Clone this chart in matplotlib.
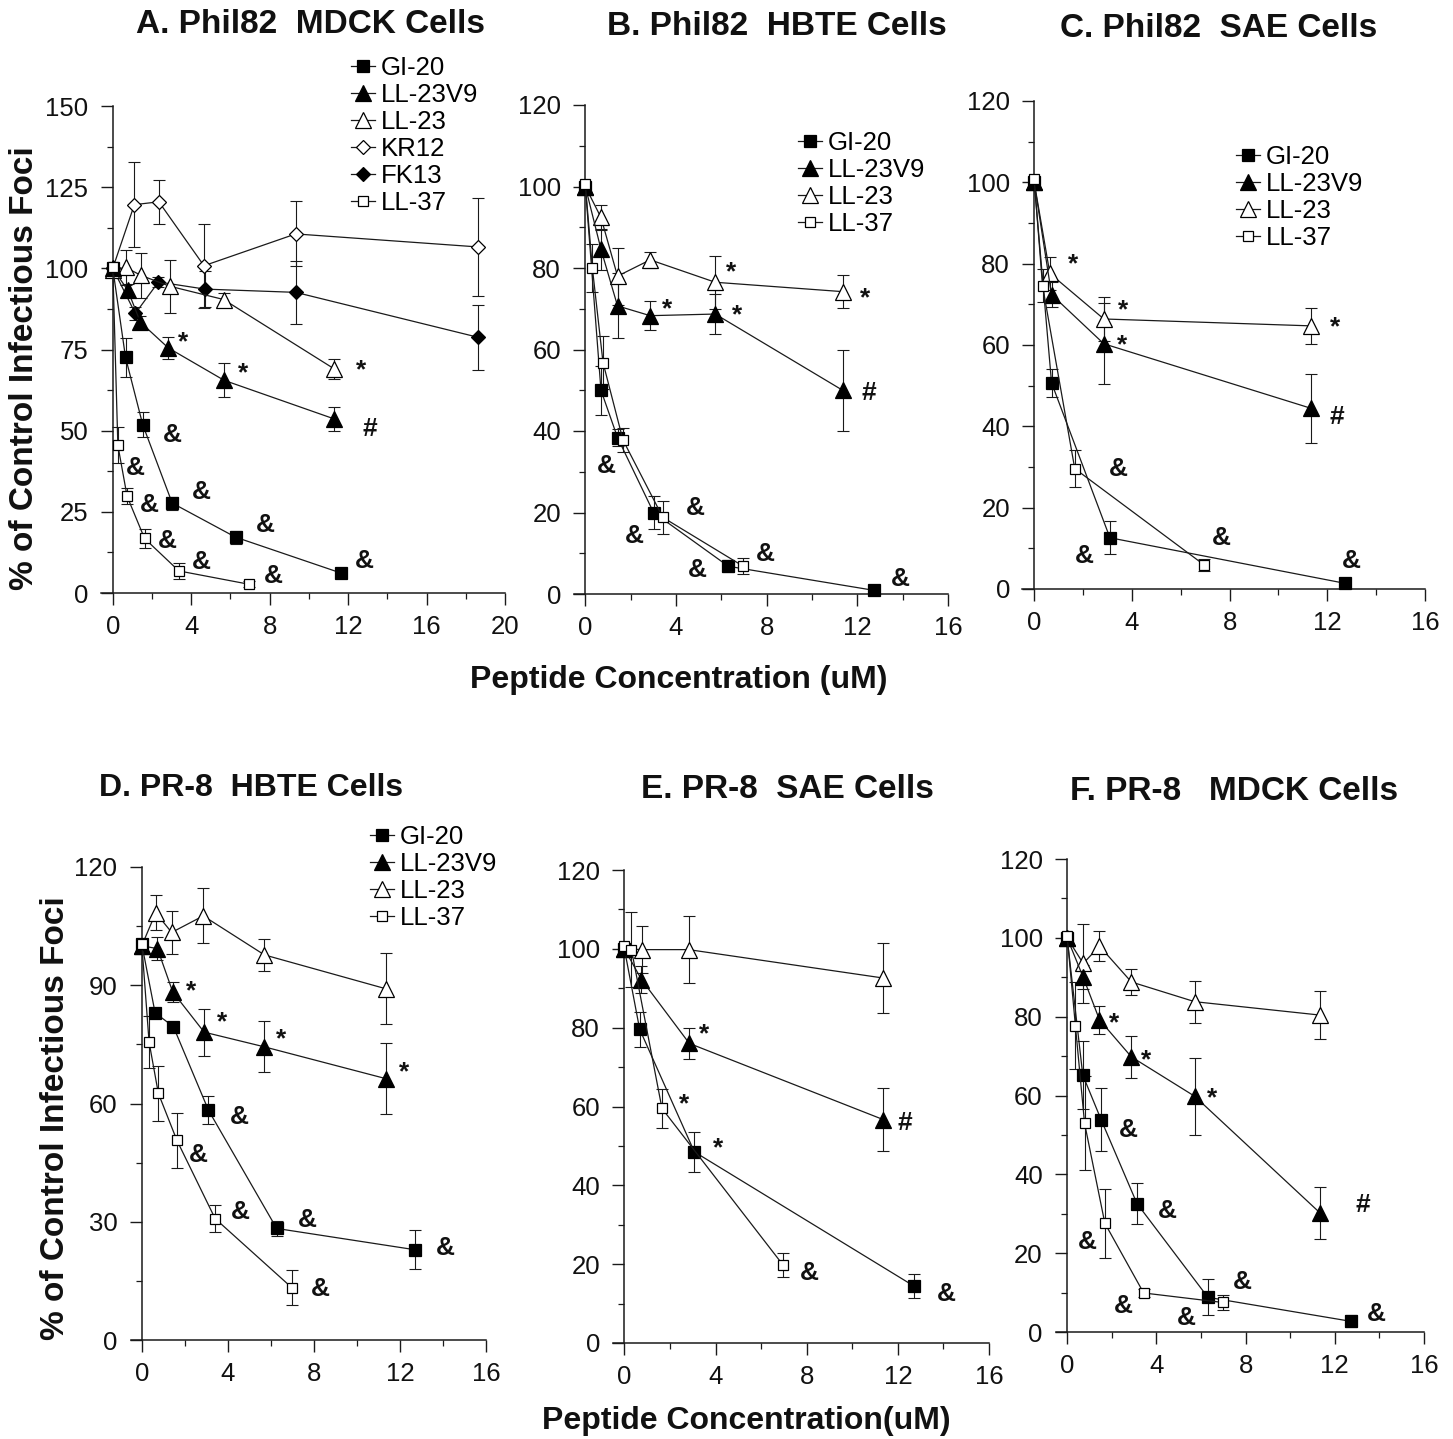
import matplotlib
matplotlib.use("Agg")
import matplotlib.pyplot as plt
from matplotlib.ticker import MultipleLocator

plt.rcParams['font.family'] = ['Liberation Sans', 'DejaVu Sans']

W, H = 1453, 1439

# ---- data: (x, y, err) per peptide ----
# A. Phil82 MDCK
A_GI20 = ([0, 0.65, 1.53, 3.03, 6.26, 11.66], [100, 72.6, 51.8, 27.7, 17.2, 6.1], [0, 6, 3.9, 2, 2, 1])
A_LL23V9 = ([0, 0.77, 1.41, 2.83, 5.68, 11.3], [100, 93.2, 83.4, 75.5, 65.5, 53.6], [0, 2, 2, 3.5, 5.2, 3.6])
A_LL23 = ([0, 0.65, 1.45, 2.9, 5.65, 11.3], [99.5, 100.3, 97.8, 94.5, 90.4, 69], [1, 5.5, 7, 8.2, 2, 3])
A_KR12 = ([0, 1.1, 2.35, 4.65, 9.33, 18.6], [100, 119.6, 120.5, 100.8, 110.6, 106.6], [0, 13, 6.8, 13, 10, 15])
A_FK13 = ([0, 1.15, 2.33, 4.7, 9.33, 18.6], [100, 86.1, 95.8, 93.6, 92.6, 78.8], [0, 2, 1.5, 5.5, 9.8, 10])
A_LL37 = ([0, 0.26, 0.73, 1.62, 3.37, 6.94], [100.5, 45.5, 29.8, 16.8, 6.8, 2.7], [0, 5.5, 2.5, 3, 2.5, 1])

# B. Phil82 HBTE
B_GI20 = ([0, 0.69, 1.42, 3.01, 6.31, 12.73], [100, 50, 38.4, 20, 6.8, 0.9], [0, 6, 2, 4, 1.5, 0.5])
B_LL23V9 = ([0, 0.69, 1.42, 2.86, 5.73, 11.35], [100, 84.6, 70.7, 68.3, 68.7, 50], [0, 5, 8, 3.5, 5, 10])
B_LL23 = ([0, 0.69, 1.42, 2.86, 5.73, 11.35], [100, 92.4, 78, 82, 76.5, 74.2], [0, 3, 7, 2, 6.5, 4])
B_LL37 = ([0, 0.31, 0.78, 1.66, 3.42, 6.97], [100.5, 80, 56.8, 37.8, 18.8, 6.8], [0, 6, 6.5, 3, 4, 2])

# C. Phil82 SAE
C_GI20 = ([0, 0.71, 3.1, 12.72], [100, 50.7, 12.6, 1.4], [0, 3.5, 4, 1])
C_LL23V9 = ([0, 0.71, 2.85, 11.35], [100, 72.4, 60.3, 44.4], [0, 3, 10, 8.5])
C_LL23 = ([0, 0.64, 2.85, 11.35], [100, 77.6, 66.4, 64.7], [0, 4, 5.5, 4.5])
C_LL37 = ([0, 0.34, 1.66, 6.94], [100.7, 74.6, 29.6, 6], [0, 4, 4.5, 1.5])

# D. PR-8 HBTE
D_GI20 = ([0, 0.62, 1.47, 3.1, 6.27, 12.7], [100.5, 83, 79.5, 58.3, 28.3, 22.9], [0, 1, 1, 3.5, 2, 5])
D_LL23V9 = ([0, 0.73, 1.44, 2.9, 5.68, 11.35], [100, 99.3, 88.3, 78.1, 74.4, 66.3], [0, 3, 2.5, 6, 6.5, 9])
D_LL23 = ([0, 0.65, 1.39, 2.86, 5.7, 11.35], [100, 108.4, 103.4, 107.6, 97.7, 89.1], [0, 4.5, 5.5, 7, 4, 9])
D_LL37 = ([0, 0.34, 0.77, 1.63, 3.41, 6.97], [100.5, 75.6, 62.6, 50.7, 30.8, 13.3], [0, 6.5, 7, 7, 3.5, 4.5])

# E. PR-8 SAE
E_GI20 = ([0, 0.67, 3.07, 12.69], [100, 79.6, 48.5, 14.5], [0, 4.5, 5, 3])
E_LL23V9 = ([0, 0.75, 2.85, 11.35], [100, 92.2, 76, 56.7], [0, 3.5, 4, 8])
E_LL23 = ([0, 0.77, 2.82, 11.35], [100, 99.8, 99.8, 92.6], [0, 6, 8.5, 9])
E_LL37 = ([0, 0.31, 1.65, 6.96], [100.6, 99.8, 59.5, 19.8], [0, 9.5, 5, 3])

# F. PR-8 MDCK
F_GI20 = ([0, 0.7, 1.52, 3.13, 6.31, 12.73], [100, 65.2, 53.9, 32.6, 8.8, 2.7], [0, 8.5, 8, 5.2, 4.6, 1.5])
F_LL23V9 = ([0, 0.72, 1.45, 2.88, 5.72, 11.34], [100, 90, 79.2, 69.8, 59.8, 30.2], [0, 3, 3.5, 5.3, 9.8, 6.5])
F_LL23 = ([0, 0.72, 1.45, 2.88, 5.72, 11.34], [100, 93.5, 97.9, 88.8, 83.8, 80.4], [0, 10, 3.8, 3.2, 5.3, 6])
F_LL37 = ([0, 0.37, 0.78, 1.69, 3.43, 6.97], [100.5, 77.7, 53, 27.6, 9.9, 7.5], [0, 11, 12, 8.8, 1, 2])

# significance marks (x, y, symbol)
A_MARKS = [(3.6, 79.7, '*'), (6.62, 70.1, '*'), (12.65, 71.2, '*'), (13.1, 51.3, '#'),
           (3.06, 49.5, '&'), (1.17, 39.2, '&'), (4.5, 31.8, '&'), (1.87, 28, '&'),
           (7.78, 21.6, '&'), (2.8, 16.8, '&'), (4.54, 10.2, '&'), (12.85, 10.7, '&'), (8.17, 5.9, '&')]
B_MARKS = [(6.42, 80.9, '*'), (3.6, 71.8, '*'), (6.71, 70.4, '*'), (12.33, 74.7, '*'), (12.5, 50, '#'),
           (0.95, 32, '&'), (4.85, 21.7, '&'), (2.16, 14.8, '&'), (7.96, 10.4, '&'), (4.95, 6.4, '&'),
           (13.9, 4.4, '&')]
C_MARKS = [(1.6, 82, '*'), (3.64, 70.5, '*'), (3.6, 62, '*'), (12.33, 66.4, '*'), (12.37, 42.8, '#'),
           (3.44, 30.2, '&'), (2.07, 8.8, '&'), (7.67, 13.2, '&'), (13, 7.5, '&')]
D_MARKS = [(2.28, 90.6, '*'), (3.75, 82.7, '*'), (6.46, 78.5, '*'), (12.2, 69.9, '*'),
           (4.54, 57.2, '&'), (2.63, 47.6, '&'), (4.6, 33.2, '&'), (7.7, 31.1, '&'),
           (14.1, 24, '&'), (8.31, 13.6, '&')]
E_MARKS = [(3.48, 80.5, '*'), (2.6, 62.6, '*'), (4.09, 51.6, '*'), (12.32, 56.5, '#'),
           (8.13, 18.4, '&'), (14.12, 13, '&')]
F_MARKS = [(2.09, 80.4, '*'), (3.55, 71, '*'), (6.5, 61.4, '*'), (13.24, 32.8, '#'),
           (2.76, 51.9, '&'), (4.5, 31.4, '&'), (0.9, 23.5, '&'), (7.84, 13.3, '&'),
           (2.54, 7.2, '&'), (5.34, 4.3, '&'), (13.85, 5.1, '&')]

LEGEND_ORDER = ['GI-20', 'LL-23V9', 'LL-23', 'KR12', 'FK13', 'LL-37']

# ---- styles ----
STYLE = {
    'GI-20':   dict(marker='s', mfc='black', ms=8.0),
    'LL-23V9': dict(marker='^', mfc='black', ms=11),
    'LL-23':   dict(marker='^', mfc='white', ms=11),
    'KR12':    dict(marker='D', mfc='white', ms=7.0),
    'FK13':    dict(marker='D', mfc='black', ms=7.0),
    'LL-37':   dict(marker='s', mfc='white', ms=7.4),
}
INK = '#1a1a1a'
MARK_FS = 19

fig = plt.figure(figsize=(W / 100, H / 100), dpi=100)


def px(x, y):
    return x / W, 1 - y / H


def make_axes(left, right, top, bottom, xmin, xmax, ymax, ymaj, ymin_step):
    ax = fig.add_axes([left / W, 1 - bottom / H, (right - left) / W, (bottom - top) / H])
    ax.set_xlim(xmin, xmax)
    ax.set_ylim(0, ymax)
    ax.spines['top'].set_visible(False)
    ax.spines['right'].set_visible(False)
    ax.spines['left'].set_position(('data', 0))
    for s in ('left', 'bottom'):
        ax.spines[s].set_linewidth(1.1)
        ax.spines[s].set_color(INK)
    ax.xaxis.set_major_locator(MultipleLocator(4))
    ax.xaxis.set_minor_locator(MultipleLocator(2))
    ax.yaxis.set_major_locator(MultipleLocator(ymaj))
    ax.yaxis.set_minor_locator(MultipleLocator(ymin_step))
    ax.tick_params(which='major', direction='out', length=8.5, width=1.0, color=INK,
                   labelsize=18.5, labelcolor='#111111')
    ax.tick_params(axis='x', which='major', pad=7)
    ax.tick_params(axis='y', which='major', pad=9)
    ax.tick_params(which='minor', direction='out', length=4, width=0.9, color=INK)
    return ax


def draw(ax, series, marks):
    handles = []
    for name, (x, y, e) in series:
        ax.errorbar(x, y, yerr=e, fmt='none', ecolor=INK, elinewidth=0.8,
                    capsize=4.6, capthick=0.8, clip_on=False, zorder=2)
        st = STYLE[name]
        h, = ax.plot(x, y, color=INK, lw=0.9, marker=st['marker'], ms=st['ms'],
                     mfc=st['mfc'], mec='black', mew=0.9, clip_on=False, zorder=3, label=name)
        handles.append(h)
    for x, y, s in marks:
        dy = 0.58 * MARK_FS if s == '*' else 0.36 * MARK_FS
        ax.annotate(s, (x, y), xytext=(0, -dy), textcoords='offset points',
                    ha='center', va='baseline', fontsize=MARK_FS, fontweight='bold',
                    color='#111111', annotation_clip=False)
    return sorted(handles, key=lambda k: LEGEND_ORDER.index(k.get_label()))


def legend(ax, handles, x, y):
    ax.legend(handles=handles, loc='upper left', bbox_to_anchor=px(x, y),
              bbox_transform=fig.transFigure, frameon=False, borderpad=0,
              borderaxespad=0, handlelength=0.95, handletextpad=0.22,
              labelspacing=0.12, fontsize=18.5)


# A
ax = make_axes(101, 505, 106, 593, -0.6, 20, 150, 25, 12.5)
h = draw(ax, [('KR12', A_KR12), ('FK13', A_FK13), ('LL-23', A_LL23), ('LL-23V9', A_LL23V9),
              ('GI-20', A_GI20), ('LL-37', A_LL37)], A_MARKS)
legend(ax, h, 351, 56)

# B
ax = make_axes(574, 948, 105, 594, -0.5, 16, 120, 20, 10)
h = draw(ax, [('LL-23', B_LL23), ('LL-23V9', B_LL23V9), ('GI-20', B_GI20), ('LL-37', B_LL37)], B_MARKS)
legend(ax, h, 798, 131)

# C
ax = make_axes(1022, 1425, 101, 589, -0.5, 16, 120, 20, 10)
h = draw(ax, [('LL-23', C_LL23), ('LL-23V9', C_LL23V9), ('GI-20', C_GI20), ('LL-37', C_LL37)], C_MARKS)
legend(ax, h, 1236, 145)

# D
ax = make_axes(131, 486, 867, 1340, -0.5, 16, 120, 30, 15)
h = draw(ax, [('LL-23', D_LL23), ('LL-23V9', D_LL23V9), ('GI-20', D_GI20), ('LL-37', D_LL37)], D_MARKS)
legend(ax, h, 370, 825)

# E
ax = make_axes(613, 989, 870, 1343, -0.5, 16, 120, 20, 10)
draw(ax, [('LL-23', E_LL23), ('LL-23V9', E_LL23V9), ('GI-20', E_GI20), ('LL-37', E_LL37)], E_MARKS)

# F
ax = make_axes(1056, 1424, 859, 1332, -0.5, 16, 120, 20, 10)
draw(ax, [('LL-23', F_LL23), ('LL-23V9', F_LL23V9), ('GI-20', F_GI20), ('LL-37', F_LL37)], F_MARKS)

# titles and axis labels
tkw = dict(fontweight='bold', color='#111111', ha='center', va='baseline')
fig.text(*px(311, 33), 'A. Phil82  MDCK Cells', fontsize=24, **tkw)
fig.text(*px(777, 35), 'B. Phil82  HBTE Cells', fontsize=24, **tkw)
fig.text(*px(1219, 37), 'C. Phil82  SAE Cells', fontsize=24, **tkw)
fig.text(*px(251, 796), 'D. PR-8  HBTE Cells', fontsize=23, **tkw)
fig.text(*px(787, 798), 'E. PR-8  SAE Cells', fontsize=24, **tkw)
fig.text(*px(1234, 800), 'F. PR-8   MDCK Cells', fontsize=24, **tkw)

lkw = dict(fontweight='bold', color='#111111', ha='center', va='center')
fig.text(*px(25, 368), '% of Control Infectious Foci', rotation=90, fontsize=24, **lkw)
fig.text(*px(56, 1118), '% of Control Infectious Foci', rotation=90, fontsize=24, **lkw)
fig.text(*px(679, 680), 'Peptide Concentration (uM)', fontsize=23, **lkw)
fig.text(*px(746, 1421), 'Peptide Concentration(uM)', fontsize=23, **lkw)

fig.savefig('out.png', dpi=100)
